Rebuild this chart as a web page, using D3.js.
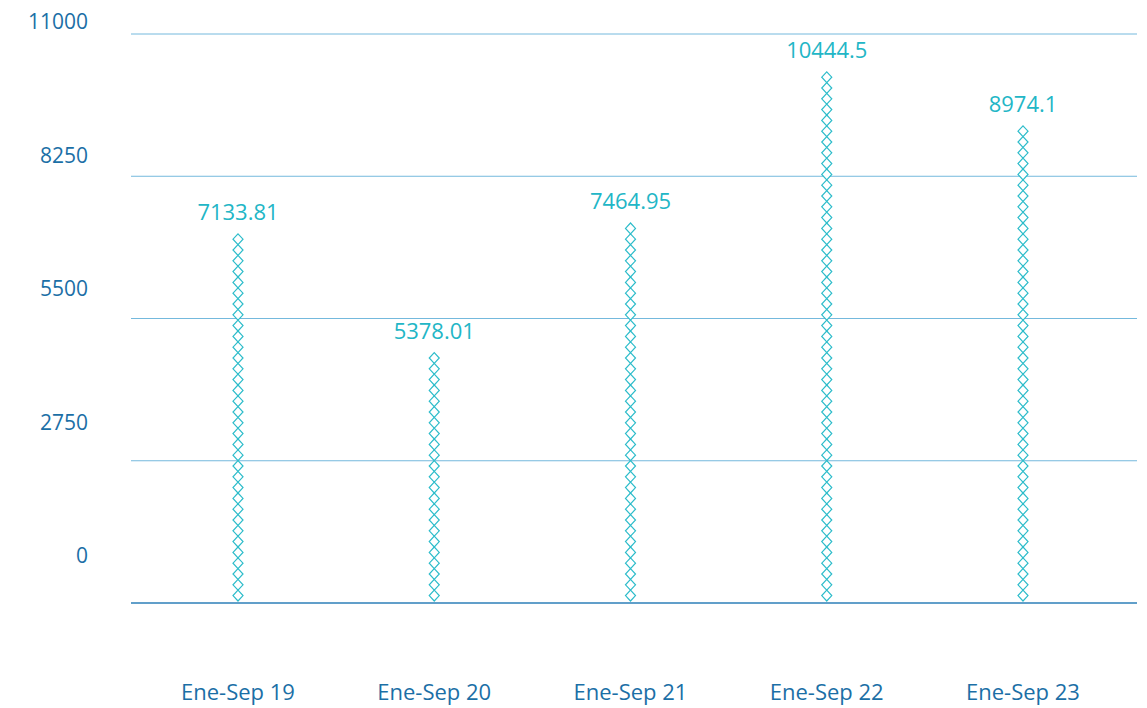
<!DOCTYPE html>
<html lang="es">
<head>
  <meta charset="UTF-8">
  <title>Ene-Sep</title>
  <script src="https://d3js.org/d3.v7.min.js"></script>
  <style>
    body {
      margin: 0;
      background: #fff;
      font-family: 'Open Sans', 'Noto Sans', Arial, sans-serif;
    }
    svg { display: block; }
  </style>
</head>
<body>
<svg id="chart" width="1147" height="708"></svg>
<script>
const categories = ["Ene-Sep 19", "Ene-Sep 20", "Ene-Sep 21", "Ene-Sep 22", "Ene-Sep 23"];
// value shown above each column
const values = [7133.81, 5378.01, 7464.95, 10444.5, 8974.1];
// column height as drawn in the picture (axis units)
const drawnHeights = [7095, 4850, 7290, 10190, 9200];
const yTicks = [0, 2750, 5500, 8250, 11000];

const svg = d3.select("#chart");
const plot = {left: 131, right: 1137, top: 34, bottom: 603};

const x = d3.scalePoint().domain(categories).range([238, 1023]);
const y = d3.scaleLinear().domain([0, 11000]).range([plot.bottom, plot.top]);
// tick labels sit above their lines, drifting with height
const yLabel = d3.scaleLinear().domain([0, 11000]).range([556, 22]);

// grid lines
svg.append("g").selectAll("line")
  .data(yTicks)
  .join("line")
    .attr("x1", plot.left).attr("x2", plot.right)
    .attr("y1", d => y(d)).attr("y2", d => y(d))
    .attr("stroke", d => d === 0 ? "#2c7fb8" : "#74b9dd")
    .attr("stroke-width", d => d === 0 ? 1.5 : 1);

// y labels
svg.append("g").selectAll("text")
  .data(yTicks)
  .join("text")
    .attr("x", 88)
    .attr("y", d => yLabel(d))
    .attr("dy", "0.35em")
    .attr("text-anchor", "end")
    .attr("fill", "#1b6fa6")
    .attr("font-size", 21)
    .text(d => d);

// x labels
svg.append("g").selectAll("text")
  .data(categories)
  .join("text")
    .attr("x", d => x(d))
    .attr("y", 692)
    .attr("dy", "0.35em")
    .attr("text-anchor", "middle")
    .attr("fill", "#1b6fa6")
    .attr("font-size", 22)
    .text(d => d);

// diamond columns
const step = 10.8, halfW = 5;
const diamond = `M0,${-step / 2}L${halfW},0L0,${step / 2}L${-halfW},0Z`;

categories.forEach((c, i) => {
  const h = y(0) - y(drawnHeights[i]);
  const n = Math.round(h / step);
  const g = svg.append("g").attr("transform", `translate(${x(c)},0)`);
  g.selectAll("path")
    .data(d3.range(n))
    .join("path")
      .attr("d", diamond)
      .attr("transform", k => `translate(0,${y(0) - 2 - step * (k + 0.5)})`)
      .attr("fill", "#fff")
      .attr("stroke", "#2cbcca")
      .attr("stroke-width", 1.2);
  const topY = y(0) - 2 - step * n;
  g.append("text")
    .attr("x", 0)
    .attr("y", topY - 14)
    .attr("text-anchor", "middle")
    .attr("fill", "#22b6c6")
    .attr("font-size", 22)
    .text(values[i]);
});
</script>
</body>
</html>
